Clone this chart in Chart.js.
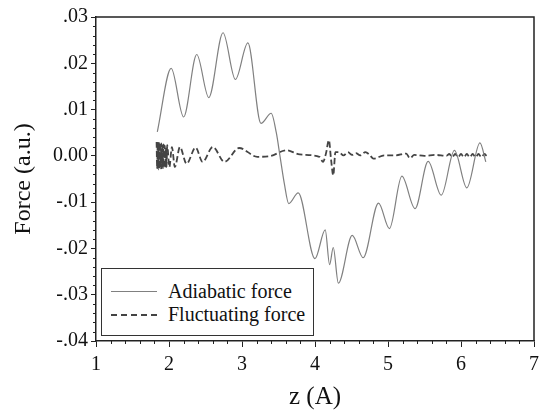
<!DOCTYPE html>
<html>
    <head>
        <meta charset="UTF-8">
        <title>Force vs z</title>
        <script src="https://cdn.jsdelivr.net/npm/chart.js"></script>
        <style>
            body { margin: 0; background: #fff; }
            #wrap { position: relative; width: 545px; height: 418px; }
            #legend {
                position: absolute; left: 101px; top: 268px; width: 211px; height: 66px;
                border: 1px solid #333; background: #fff;
                font-family: "Times New Roman", Times, "Liberation Serif", "Nimbus Roman", "Noto Serif", "DejaVu Serif", FreeSerif, serif;
                font-size: 20px; color: #111;
            }
            #legend .row { position: absolute; left: 0; height: 22px; line-height: 22px; }
            #legend .sample { position: absolute; left: 9px; top: 11px; width: 46px; height: 0; }
            #legend .label { position: absolute; left: 66px; top: 0; white-space: nowrap; }
        </style>
    </head>
    <body>
        <div id="wrap">
            <canvas id="forceChart" width="545" height="418"></canvas>
            <div id="legend"></div>
        </div>
        <script>
        // x axis: z (A), y axis: force (a.u.)
        const xTicks = [1, 2, 3, 4, 5, 6, 7];
        const yTicks = [-0.04, -0.03, -0.02, -0.01, 0, 0.01, 0.02, 0.03];

        // adiabatic force (solid line)
        const zAdiabatic = [1.84, 2.03, 2.20, 2.38, 2.545, 2.74, 2.91, 3.08, 3.26, 3.40, 3.47, 3.52, 3.58, 3.64,
            3.77, 4.00, 4.14, 4.20, 4.25, 4.32, 4.51, 4.66, 4.87, 5.02, 5.19, 5.37, 5.55, 5.73, 5.91, 6.08, 6.26, 6.34];
        const fAdiabatic = [0.0052, 0.0189, 0.0084, 0.0219, 0.0126, 0.0266, 0.0165, 0.0244, 0.0070, 0.0092, 0.0050, 0.0000, -0.0060, -0.0103,
            -0.0080, -0.0222, -0.0160, -0.0235, -0.0198, -0.0275, -0.0172, -0.0220, -0.0102, -0.0157, -0.0044, -0.0114, -0.0012, -0.0085, 0.0012, -0.0069, 0.0028, -0.0013];

        // fluctuating force (dashed line)
        const zFluct = [1.830, 1.838, 1.846, 1.854, 1.862, 1.870, 1.878, 1.886, 1.894, 1.902, 1.910, 1.918, 1.926, 1.934, 1.942, 1.950, 1.958, 1.966,
            1.975, 2.005, 2.04, 2.08, 2.15, 2.24, 2.365, 2.46, 2.60, 2.76, 2.96, 3.21, 3.37, 3.61, 3.79, 4.06,
            4.11, 4.15, 4.19, 4.22, 4.25, 4.28, 4.33, 4.39, 4.45, 4.51, 4.56, 4.62, 4.69, 4.75, 4.80, 4.95, 5.10, 5.25, 5.30, 5.36, 5.50, 5.65,
            5.80, 5.84, 5.88, 5.92, 5.96, 6.00, 6.04, 6.08, 6.12, 6.16, 6.20, 6.24, 6.28, 6.32, 6.35];
        const fFluct = [0.0030, -0.0028, 0.0030, -0.0029, 0.0029, -0.0028, 0.0028, -0.0027, 0.0027, -0.0027, 0.0026, -0.0026, 0.0025, -0.0026, 0.0022, -0.0025, 0.0018, -0.0024,
            0.0023, -0.0024, 0.0019, -0.0024, 0.0019, -0.0017, 0.0018, -0.0013, 0.0019, -0.0013, 0.0017, -0.0002, -0.0001, 0.0012, 0.0003, -0.0002,
            -0.0013, 0.0005, 0.0034, -0.0008, -0.0042, 0.0008, 0.0008, 0.0001, 0.0008, 0.0002, 0.0006, 0.0001, 0.0008, 0.0002, -0.0006, 0.0001, 0.0001, 0.0005, -0.0005, 0.0002, 0.0000, 0.0002,
            0.0000, 0.0004, -0.0003, 0.0004, -0.0003, 0.0004, -0.0003, 0.0004, -0.0003, 0.0004, -0.0003, 0.0004, -0.0003, 0.0004, 0.0000];

        const serif = '"Times New Roman", Times, "Liberation Serif", "Nimbus Roman", "Noto Serif", "DejaVu Serif", FreeSerif, serif';

        function toPoints(xs, ys) {
            return xs.map((x, i) => ({x: x, y: ys[i]}));
        }

        function fmtForce(v) {
            const r = Math.round(v * 100);
            if (r === 0) return '0.00';
            return (r < 0 ? '-' : '') + '.' + String(Math.abs(r)).padStart(2, '0');
        }

        // frame on top/right plus small minor ticks
        const framePlugin = {
            id: 'frame',
            afterDraw(chart) {
                const {ctx, chartArea: a, scales} = chart;
                ctx.save();
                ctx.strokeStyle = '#222';
                ctx.lineWidth = 1.5;
                ctx.beginPath();
                ctx.moveTo(a.left, a.top);
                ctx.lineTo(a.right, a.top);
                ctx.lineTo(a.right, a.bottom);
                ctx.stroke();
                ctx.lineWidth = 1;
                ctx.beginPath();
                for (let i = 0; i < xTicks.length - 1; i++) {
                    for (let k = 1; k < 5; k++) {
                        const px = Math.round(scales.x.getPixelForValue(xTicks[i] + k * 0.2)) + 0.5;
                        ctx.moveTo(px, a.bottom);
                        ctx.lineTo(px, a.bottom + 3);
                    }
                }
                for (let i = 0; i < yTicks.length - 1; i++) {
                    for (let k = 1; k < 5; k++) {
                        const py = Math.round(scales.y.getPixelForValue(yTicks[i] + k * 0.002)) + 0.5;
                        ctx.moveTo(a.left, py);
                        ctx.lineTo(a.left - 3, py);
                    }
                }
                ctx.stroke();
                ctx.restore();
            }
        };

        const chart = new Chart(document.getElementById('forceChart').getContext('2d'), {
            type: 'line',
            data: {
                datasets: [{
                    label: 'Adiabatic force',
                    data: toPoints(zAdiabatic, fAdiabatic),
                    borderColor: '#808080',
                    borderWidth: 1.2,
                    pointRadius: 0,
                    cubicInterpolationMode: 'monotone',
                    fill: false
                }, {
                    label: 'Fluctuating force',
                    data: toPoints(zFluct, fFluct),
                    borderColor: '#444',
                    borderWidth: 1.8,
                    borderDash: [6, 3],
                    pointRadius: 0,
                    cubicInterpolationMode: 'monotone',
                    fill: false
                }]
            },
            options: {
                responsive: false,
                animation: false,
                devicePixelRatio: 1,
                layout: { padding: { top: 17, right: 5, left: 0, bottom: 0 } },
                plugins: {
                    legend: { display: false },
                    tooltip: { enabled: false }
                },
                scales: {
                    x: {
                        type: 'linear',
                        min: xTicks[0],
                        max: xTicks[xTicks.length - 1],
                        afterBuildTicks(scale) { scale.ticks = xTicks.map(v => ({value: v})); },
                        afterFit(scale) { scale.height = 77; },
                        grid: { drawOnChartArea: false, tickLength: 6, tickColor: '#222', color: '#222' },
                        border: { display: true, color: '#222', width: 1.5 },
                        ticks: { color: '#111', padding: 6, font: { family: serif, size: 20 }, maxRotation: 0 },
                        title: { display: true, text: 'z (A)', color: '#111', font: { family: serif, size: 25 }, padding: { top: 0, bottom: 6 } }
                    },
                    y: {
                        min: yTicks[0],
                        max: yTicks[yTicks.length - 1],
                        afterBuildTicks(scale) { scale.ticks = yTicks.map(v => ({value: v})); },
                        afterFit(scale) { scale.width = 96; },
                        grid: { drawOnChartArea: false, tickLength: 5, tickColor: '#222', color: '#222' },
                        border: { display: true, color: '#222', width: 1.5 },
                        ticks: { color: '#111', padding: 3, font: { family: serif, size: 20 }, callback: v => fmtForce(v) },
                        title: { display: true, text: 'Force (a.u.)', color: '#111', font: { family: serif, size: 24 }, padding: { top: 9, bottom: 0 } }
                    }
                }
            },
            plugins: [framePlugin]
        });

        // legend box inside the plot, built from the datasets
        const legendEl = document.getElementById('legend');
        chart.data.datasets.forEach((ds, i) => {
            const row = document.createElement('div');
            row.className = 'row';
            row.style.top = (11 + i * 23) + 'px';
            const sample = document.createElement('div');
            sample.className = 'sample';
            sample.style.borderTop = (ds.borderDash ? '2px dashed ' : '1px solid ') + ds.borderColor;
            const label = document.createElement('span');
            label.className = 'label';
            label.textContent = ds.label;
            row.appendChild(sample);
            row.appendChild(label);
            legendEl.appendChild(row);
        });
        </script>
    </body>
</html>
